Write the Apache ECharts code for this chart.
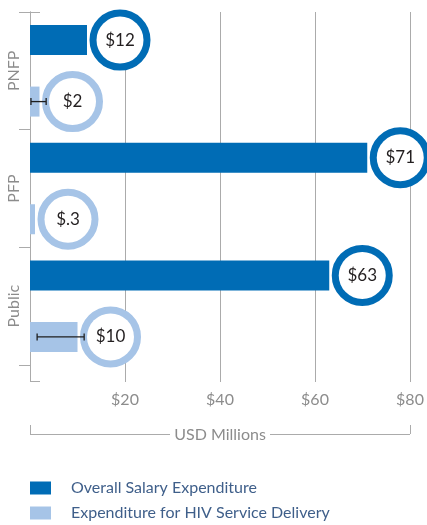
<!DOCTYPE html>
<html>
<head>
<meta charset="utf-8">
<script src="https://cdn.jsdelivr.net/npm/echarts@6/dist/echarts.min.js"></script>
<style>
  html, body { margin: 0; padding: 0; background: #fff; }
  #main { width: 427px; height: 525px; }
</style>
</head>
<body>
<div id="main"></div>
<script>
// data
var categories = ['PNFP', 'PFP', 'Public'];
var overallSalary = [12, 71, 63];
var hivDelivery = [2, 0.3, 10];
var overallLabels = ['$12', '$71', '$63'];
var hivLabels = ['$2', '$.3', '$10'];
var hivErrLow = [0.2, null, 1.5];
var hivErrHigh = [3.4, null, 11.4];
var xTicks = [0, 20, 40, 60, 80];
var axisTitle = 'USD Millions';

var darkBlue = '#006CB5';
var lightBlue = '#A6C4E7';
var grey = '#ABABAB';
var font = 'Lato';

var barWidth = 30;
var barGap = 1.05;
// light bar sits below the band centre (axis is inverse)
var lightOffset = barWidth * (1 + barGap) / 2;
var bracketOffset = 53;

var errData = [];
for (var i = 0; i < categories.length; i++) {
    if (hivErrLow[i] != null) {
        errData.push([i, hivErrLow[i], hivErrHigh[i]]);
    }
}

function circleLabel(color, texts) {
    return {
        show: true,
        position: 'right',
        distance: 33,
        formatter: function (p) { return texts[p.dataIndex]; },
        width: 47,
        height: 47,
        lineHeight: 47,
        align: 'center',
        verticalAlign: 'middle',
        backgroundColor: '#fff',
        borderColor: color,
        borderWidth: 7,
        borderRadius: 26,
        color: '#231F20',
        fontFamily: font,
        fontSize: 17
    };
}

var myChart = echarts.init(document.getElementById('main'));

var option = {
    animation: false,
    grid: [
        { left: 30, right: 17, top: 12, height: 353 },
        { left: 30, right: 17, top: 12, height: 369 }
    ],
    legend: {
        orient: 'vertical',
        left: 30,
        bottom: 4,
        padding: 0,
        itemWidth: 21,
        itemHeight: 13,
        itemGap: 9,
        icon: 'rect',
        textStyle: {
            color: '#3F5F8A',
            fontFamily: font,
            fontSize: 16,
            padding: [0, 0, 0, 15]
        },
        data: ['Overall Salary Expenditure', 'Expenditure for HIV Service Delivery']
    },
    xAxis: [
        {
            gridIndex: 0,
            type: 'value',
            min: xTicks[0],
            max: xTicks[xTicks.length - 1],
            interval: 20,
            axisLine: { show: false },
            axisTick: { show: true, length: 17, lineStyle: { color: grey } },
            splitLine: { show: true, lineStyle: { color: grey } },
            axisLabel: {
                margin: 27,
                color: '#8C8C8C',
                fontFamily: font,
                fontSize: 16,
                formatter: function (v) { return v === 0 ? '' : '$' + v; }
            }
        },
        {
            // bracket ends of "USD Millions"
            gridIndex: 1,
            type: 'value',
            min: xTicks[0],
            max: xTicks[xTicks.length - 1],
            interval: 80,
            position: 'bottom',
            offset: bracketOffset,
            axisLine: { show: false, onZero: false },
            axisTick: { show: true, inside: true, length: 9, lineStyle: { color: grey } },
            axisLabel: { show: false },
            splitLine: { show: false }
        }
    ],
    yAxis: [
        {
            gridIndex: 0,
            type: 'category',
            data: categories,
            inverse: true,
            axisLine: { show: true, lineStyle: { color: grey } },
            axisTick: { show: true, length: 11, lineStyle: { color: grey } },
            axisLabel: {
                rotate: 90,
                margin: 8,
                color: '#8C8C8C',
                fontFamily: font,
                fontSize: 16
            }
        },
        {
            gridIndex: 1,
            type: 'value',
            min: 0,
            max: 1,
            interval: 1,
            axisLine: { show: true, onZero: false, lineStyle: { color: grey } },
            axisTick: { show: true, inside: true, length: 10, lineStyle: { color: grey } },
            axisLabel: { show: false },
            splitLine: { show: false }
        }
    ],
    series: [
        {
            name: 'Overall Salary Expenditure',
            type: 'bar',
            xAxisIndex: 0,
            yAxisIndex: 0,
            barWidth: barWidth,
            barGap: (barGap * 100) + '%',
            itemStyle: { color: darkBlue },
            label: circleLabel(darkBlue, overallLabels),
            data: overallSalary
        },
        {
            name: 'Expenditure for HIV Service Delivery',
            type: 'bar',
            xAxisIndex: 0,
            yAxisIndex: 0,
            barWidth: barWidth,
            barMinHeight: 5,
            itemStyle: { color: lightBlue },
            label: circleLabel(lightBlue, hivLabels),
            data: hivDelivery
        },
        {
            type: 'custom',
            xAxisIndex: 0,
            yAxisIndex: 0,
            z: 5,
            silent: true,
            encode: { x: [1, 2], y: 0 },
            renderItem: function (params, api) {
                var cat = api.value(0);
                var a = api.coord([api.value(1), cat]);
                var b = api.coord([api.value(2), cat]);
                var y = a[1] + lightOffset;
                var st = { stroke: '#1E1E1E', lineWidth: 1.3 };
                return {
                    type: 'group',
                    children: [
                        { type: 'line', shape: { x1: a[0], y1: y, x2: b[0], y2: y }, style: st },
                        { type: 'line', shape: { x1: a[0], y1: y - 3.5, x2: a[0], y2: y + 3.5 }, style: st },
                        { type: 'line', shape: { x1: b[0], y1: y - 3.5, x2: b[0], y2: y + 3.5 }, style: st }
                    ]
                };
            },
            data: errData
        }
    ]
};

myChart.setOption(option);

// bracket line with the title sitting in a gap in the middle
var x0 = myChart.convertToPixel({ xAxisIndex: 1 }, xTicks[0]);
var x1 = myChart.convertToPixel({ xAxisIndex: 1 }, xTicks[xTicks.length - 1]);
var yb = Math.round(myChart.convertToPixel({ yAxisIndex: 1 }, 0) + bracketOffset) + 0.5;
var xm = (x0 + x1) / 2;
var halfGap = 50;
myChart.setOption({
    graphic: [
        { type: 'line', shape: { x1: x0, y1: yb, x2: xm - halfGap, y2: yb }, style: { stroke: grey, lineWidth: 1 } },
        { type: 'line', shape: { x1: xm + halfGap, y1: yb, x2: x1, y2: yb }, style: { stroke: grey, lineWidth: 1 } },
        {
            type: 'text',
            x: xm,
            y: yb,
            style: {
                text: axisTitle,
                fill: '#8C8C8C',
                font: '16px ' + font,
                textAlign: 'center',
                textVerticalAlign: 'middle'
            }
        }
    ]
});
</script>
</body>
</html>
